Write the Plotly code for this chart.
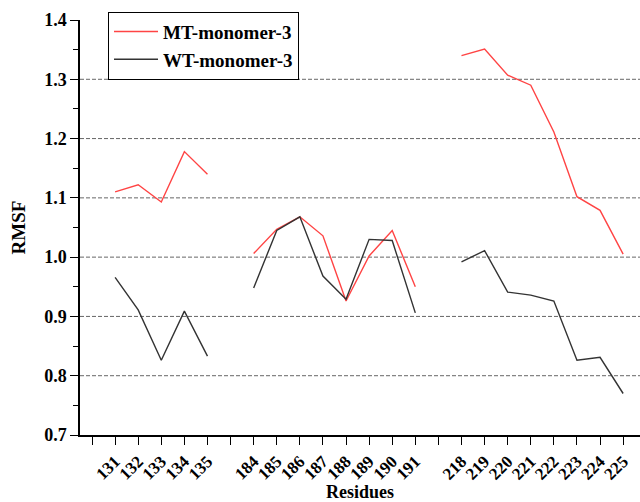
import plotly.graph_objects as go

# Residue positions on the x axis; empty slots separate the three regions
residues = ["", "131", "132", "133", "134", "135",
            " ", "184", "185", "186", "187", "188", "189", "190", "191",
            "  ", "218", "219", "220", "221", "222", "223", "224", "225"]

# RMSF values (None in the separator slots so the segments stay apart)
mt_rmsf = [None, 1.110, 1.122, 1.093, 1.178, 1.140,
           None, 1.006, 1.047, 1.068, 1.036, 0.926, 1.002, 1.045, 0.950,
           None, 1.340, 1.351, 1.307, 1.290, 1.211, 1.102, 1.079, 1.005]
wt_rmsf = [None, 0.966, 0.911, 0.826, 0.909, 0.833,
           None, 0.948, 1.045, 1.068, 0.968, 0.929, 1.030, 1.028, 0.906,
           None, 0.992, 1.011, 0.941, 0.936, 0.926, 0.826, 0.831, 0.770]

y_ticks = [0.7, 0.8, 0.9, 1.0, 1.1, 1.2, 1.3, 1.4]
grid_levels = [0.8, 0.9, 1.0, 1.1, 1.2, 1.3]

FONT = "Liberation Serif"

fig = go.Figure()
fig.add_trace(go.Scatter(x=residues, y=mt_rmsf, mode="lines", name="MT-monomer-3",
                         line=dict(color="#ff4444", width=1.4), connectgaps=False))
fig.add_trace(go.Scatter(x=residues, y=wt_rmsf, mode="lines", name="WT-monomer-3",
                         line=dict(color="#333333", width=1.4), connectgaps=False))

# dashed horizontal guide lines
for g in grid_levels:
    fig.add_shape(type="line", xref="paper", yref="y", x0=0, x1=1, y0=g, y1=g,
                  line=dict(color="#666666", width=1, dash="4px,2px"), layer="below")

fig.update_layout(
    width=640, height=502,
    margin=dict(l=80, r=0, t=20, b=67),
    paper_bgcolor="white", plot_bgcolor="white",
    font=dict(family=FONT, color="black"),
    showlegend=True,
    legend=dict(x=0.05, y=1.02, xanchor="left", yanchor="top",
                bordercolor="black", borderwidth=1, bgcolor="white",
                font=dict(family=FONT, size=19, color="black", weight="bold"),
                itemwidth=44, tracegroupgap=0),
)

fig.update_xaxes(
    type="category", categoryorder="array", categoryarray=residues,
    range=[-0.52, 23.73],
    showgrid=False, zeroline=False,
    showline=True, linecolor="black", linewidth=1.5,
    ticks="outside", ticklen=8, tickwidth=1.2, tickcolor="black",
    tickangle=-45,
    tickfont=dict(family=FONT, size=17, color="black", weight="bold"),
    title=dict(text="Residues", font=dict(family=FONT, size=18, color="black", weight="bold"),
               standoff=2),
)

fig.update_yaxes(
    range=[0.7, 1.4],
    tickvals=y_ticks, ticktext=[f"{v:.1f}" for v in y_ticks],
    showgrid=False, zeroline=False,
    showline=True, linecolor="black", linewidth=1.5,
    ticks="outside", ticklen=8, tickwidth=1.2, tickcolor="black",
    minor=dict(dtick=0.05, tick0=0.7, ticks="outside", ticklen=5, tickcolor="black", tickwidth=1),
    tickfont=dict(family=FONT, size=18, color="black", weight="bold"),
    title=dict(text="RMSF", font=dict(family=FONT, size=19, color="black", weight="bold"),
               standoff=14),
)

fig.write_html("out.html")
